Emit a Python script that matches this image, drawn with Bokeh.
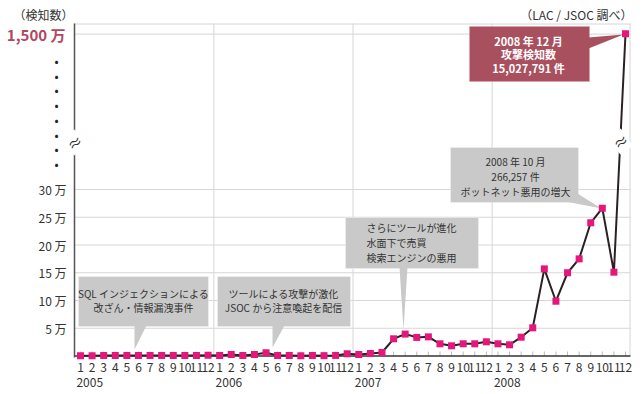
from bokeh.plotting import figure
from bokeh.models import FixedTicker, Label, Range1d, ColumnDataSource, LinearAxis
from bokeh.embed import file_html
from bokeh.resources import INLINE

FONT = "Noto Sans CJK JP"

# ---------------- data ----------------
years = ["2005", "2006", "2007", "2008"]
month_labels = ["1", "2", "3", "4", "5", "6", "7", "8", "9", "10", "11", "12"]
counts_2005 = [600, 600, 700, 700, 800, 800, 900, 900, 1000, 1100, 1100, 1200]
counts_2006 = [900, 2700, 900, 2700, 5800, 900, 900, 400, 900, 600, 1000, 4000]
counts_2007 = [2700, 4500, 6300, 31000, 39500, 33500, 34500, 22000, 18400, 22000, 22000, 25600]
counts_2008 = [22000, 20200, 33900, 50800, 157000, 98700, 150000, 175000, 240000, 266257, 151000, 15027791]
y_tick_values = [50000, 100000, 150000, 200000, 250000, 300000]
y_tick_labels = ["5 万", "10 万", "15 万", "20 万", "25 万", "30 万"]
top_value = 15000000
top_label = "1,500 万"
break_value = 300000

# ---------------- geometry helpers (picture pixels -> data) ----------------
W, H = 640, 392
PX_X0, PX_PER_IDX = 80.0, 11.596
PX_Y0, PX_PER_UNIT = 355.5, 5.55 / 10000.0
def X(px):
    return (px - PX_X0) / PX_PER_IDX
def Y(py):
    return (PX_Y0 - py) / PX_PER_UNIT

TOP_DISPLAY = Y(33.6)
def to_display(v):
    if v <= break_value:
        return v
    return break_value + (v - break_value) * (TOP_DISPLAY - break_value) / (top_value - break_value)

counts = counts_2005 + counts_2006 + counts_2007 + counts_2008
idx = list(range(len(counts)))
src = ColumnDataSource(dict(x=idx, y=[to_display(v) for v in counts], v=counts))

p = figure(width=W, height=H, output_backend="svg", toolbar_location=None,
           x_range=Range1d(X(0), X(W)), y_range=Range1d(Y(H), Y(0)),
           min_border=0, min_border_left=0, min_border_right=0, min_border_top=0, min_border_bottom=0,
           background_fill_color="white", border_fill_color="white")
p.outline_line_color = None
p.xgrid.visible = False
p.ygrid.visible = False

LEFT, RIGHT, TOP = X(74), X(630), Y(23)

# ---------------- grid (drawn under everything) ----------------
gy = y_tick_values + [TOP_DISPLAY, Y(23.5)]
p.segment(x0=[LEFT] * len(gy), y0=gy, x1=[RIGHT] * len(gy), y1=gy, line_color="#d6d6d6", line_width=1)
gx = [11.5, 23.5, 35.5, X(629.5)]
p.segment(x0=gx, y0=[0] * len(gx), x1=gx, y1=[TOP] * len(gx), line_color="#d6d6d6", line_width=1)

# ---------------- axes ----------------
xa = p.xaxis[0]
xa.fixed_location = 0
xa.bounds = (LEFT, RIGHT)
xa.ticker = FixedTicker(ticks=idx)
xa.major_label_overrides = {i: month_labels[i % 12] for i in idx}
xa.axis_line_color = None
xa.major_tick_in = 0
xa.major_tick_out = 0
xa.minor_tick_line_color = None
xa.major_label_standoff = 7
xa.major_label_text_font = FONT
xa.major_label_text_font_size = "12px"
xa.major_label_text_color = "#333333"

year_ticks = [12 * k + 0.8 for k in range(len(years))]
ya_years = LinearAxis(fixed_location=0, bounds=(LEFT, RIGHT), ticker=FixedTicker(ticks=year_ticks),
                      major_label_overrides={t: y for t, y in zip(year_ticks, years)},
                      axis_line_color=None, major_tick_in=0, major_tick_out=0, minor_tick_line_color=None,
                      major_label_standoff=22, major_label_text_font=FONT,
                      major_label_text_font_size="12px", major_label_text_color="#333333")
p.add_layout(ya_years, "below")

ya = p.yaxis[0]
ya.fixed_location = LEFT
ya.bounds = (Y(356.5), TOP)
ya.ticker = FixedTicker(ticks=y_tick_values)
ya.major_label_overrides = {v: l for v, l in zip(y_tick_values, y_tick_labels)}
ya.axis_line_color = "#555555"
ya.axis_line_width = 1.5
ya.major_tick_in = 0
ya.major_tick_out = 0
ya.minor_tick_line_color = None
ya.major_label_standoff = 8
ya.major_label_text_font = FONT
ya.major_label_text_font_size = "12px"
ya.major_label_text_color = "#333333"

ya_top = LinearAxis(fixed_location=LEFT, bounds=(Y(356.5), TOP), ticker=FixedTicker(ticks=[TOP_DISPLAY]),
                    major_label_overrides={TOP_DISPLAY: top_label},
                    axis_line_color=None, major_tick_in=0, major_tick_out=0, minor_tick_line_color=None,
                    major_label_standoff=9, major_label_text_font=FONT, major_label_text_font_size="15px",
                    major_label_text_font_style="bold", major_label_text_color="#b0485f")
p.add_layout(ya_top, "left")

# bottom axis line and inner month ticks (under the markers)
p.segment(x0=idx, y0=[0] * len(idx), x1=idx, y1=[Y(351)] * len(idx), line_color="#bbbbbb", line_width=1)
p.line(x=[LEFT, RIGHT], y=[0, 0], line_color="#333333", line_width=1.5)

# ---------------- callout boxes ----------------
GRAY = "#c9c9c9"
RED = "#a9505f"
boxes = [
    (78, 208, 276, 326, GRAY), (217, 350, 276, 326, GRAY), (345, 478, 217, 268, GRAY),
    (450, 578, 147, 202, GRAY), (469, 589, 26, 81, RED),
]
p.quad(left=[X(b[0]) for b in boxes], right=[X(b[1]) for b in boxes],
       top=[Y(b[2]) for b in boxes], bottom=[Y(b[3]) for b in boxes],
       fill_color=[b[4] for b in boxes],
       line_color=["#f2f2f2", "#f2f2f2", "#f2f2f2", "#f2f2f2", "#dba0ad"], line_dash="1 1", line_width=1)
pointers = [
    [(134, 325), (146, 325), (134, 349)],
    [(272, 325), (284, 325), (272, 347)],
    [(399, 267), (407, 267), (403, 329)],
    [(565, 201), (577, 193), (601, 208)],
    [(588, 37), (588, 48), (623, 34)],
]
p.patches(xs=[[X(a) for a, b in pt] for pt in pointers], ys=[[Y(b) for a, b in pt] for pt in pointers],
          fill_color=[GRAY, GRAY, GRAY, GRAY, RED], line_color=None)

# ---------------- data line ----------------
p.line("x", "y", source=src, line_color="#2a2123", line_width=2)
p.scatter("x", "y", source=src, marker="square", size=7, fill_color="#e5177b", line_color=None)

# ---------------- texts ----------------
def add_label(x, y, text, align="center", size="10px", color="#333333", style="normal", lh=1.2):
    p.add_layout(Label(x=x, y=y, text=text, text_align=align, text_baseline="middle",
                       text_font=FONT, text_font_size=size, text_color=color,
                       text_font_style=style, text_line_height=lh))

add_label(X(143), Y(300), "SQL インジェクションによる\n改ざん・情報漏洩事件", lh=0.95)
add_label(X(283), Y(300), "ツールによる攻撃が激化\nJSOC から注意喚起を配信", lh=0.95)
add_label(X(366), Y(242), "さらにツールが進化\n水面下で売買\n検索エンジンの悪用", align="left", lh=0.98)
add_label(X(515), Y(176), "2008 年 10 月\n266,257 件\nボットネット悪用の増大", lh=0.98)
add_label(X(528), Y(54), "2008 年 12 月\n攻撃検知数\n15,027,791 件", color="white", style="bold", size="11px", lh=0.86)

add_label(X(43), Y(14), "（検知数）", size="12px")
add_label(X(632), Y(14), "（LAC / JSOC 調べ）", align="right", size="12px")
add_label(X(56), Y(111.5), "\n".join(["•"] * 8), size="12px", color="#222222", lh=0.87)

# axis-break marks
for bx, by in [(74, 142), (620, 141)]:
    p.add_layout(Label(x=X(bx), y=Y(by), text="≈", text_align="center", text_baseline="middle",
                       text_font=FONT, text_font_size="15px", text_color="#333333", angle=0.6,
                       background_fill_color="white", background_fill_alpha=1.0))

open("out.html", "w").write(file_html(p, INLINE))
